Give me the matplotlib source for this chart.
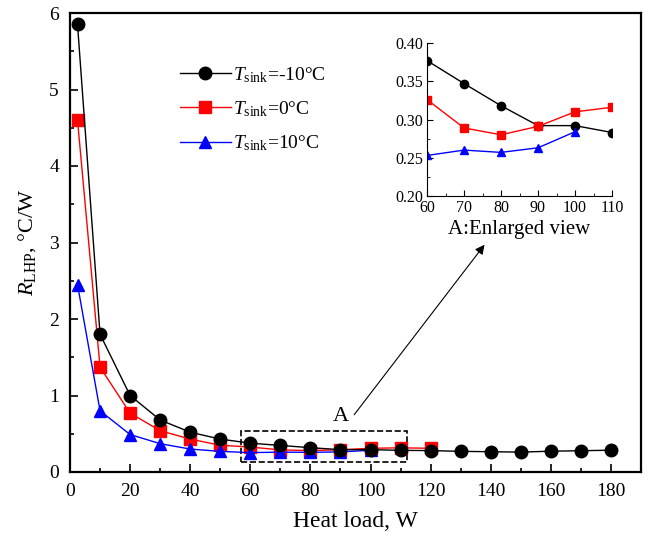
import matplotlib.pyplot as plt
from matplotlib.patches import Rectangle

plt.rcParams['font.family'] = ['Liberation Serif', 'DejaVu Serif']
plt.rcParams['mathtext.fontset'] = 'custom'
plt.rcParams['mathtext.rm'] = 'Liberation Serif'
plt.rcParams['mathtext.it'] = 'Liberation Serif:italic'

# heat load (W) and thermal resistance (C/W) for the three sink temperatures
load_m10 = [2.5, 10, 20, 30, 40, 50, 60, 70, 80, 90, 100, 110, 120, 130, 140, 150, 160, 170, 180]
r_m10 = [5.85, 1.80, 1.00, 0.68, 0.52, 0.43, 0.377, 0.347, 0.318, 0.292, 0.292, 0.283,
         0.28, 0.27, 0.265, 0.26, 0.272, 0.278, 0.285]
load_0 = [2.5, 10, 20, 30, 40, 50, 60, 70, 80, 90, 100, 110, 120]
r_0 = [4.60, 1.37, 0.77, 0.54, 0.43, 0.35, 0.326, 0.289, 0.280, 0.291, 0.310, 0.316, 0.31]
load_10 = [2.5, 10, 20, 30, 40, 50, 60, 70, 80, 90, 100]
r_10 = [2.45, 0.80, 0.49, 0.37, 0.30, 0.27, 0.253, 0.260, 0.257, 0.263, 0.284]

fig = plt.figure(figsize=(6.56, 5.35), dpi=100)
ax = fig.add_axes([70/656, 1 - 472/535, 571/656, 459/535])

ax.plot(load_m10, r_m10, 'k-o', lw=1, ms=9, label=r'$T_{\mathrm{sink}}$=-10°C', zorder=3)
ax.plot(load_0, r_0, '-s', color='red', lw=1, ms=8, label=r'$T_{\mathrm{sink}}$=0°C', zorder=2)
ax.plot(load_10, r_10, '-^', color='blue', lw=1, ms=9, label=r'$T_{\mathrm{sink}}$=10°C', zorder=2)

ax.set_xlim(0, 190)
ax.set_ylim(0, 6)
ax.set_xticks(range(0, 181, 20))
ax.set_xticks(range(10, 190, 20), minor=True)
ax.set_yticks(range(0, 7))
ax.set_yticks([0.5 + i for i in range(6)], minor=True)
ax.tick_params(which='both', direction='in', labelsize=14, width=1.2, pad=8)
ax.tick_params(which='major', length=6)
ax.tick_params(which='minor', length=3)
for s in ax.spines.values():
    s.set_linewidth(1.6)
ax.set_xlabel('Heat load, W', fontsize=17, labelpad=8)
ax.set_ylabel(r'$R_{\mathrm{LHP}}$, °C/W', fontsize=16, labelpad=8)

ax.legend(loc='upper left', bbox_to_anchor=(0.162, 0.925), frameon=False, fontsize=14,
          handlelength=2.6, handletextpad=0.1, labelspacing=0.75)

# dashed box around the enlarged region and pointer to the inset
ax.add_patch(Rectangle((57, 0.13), 55, 0.41, fill=False, ls='--', lw=1.2, ec='k'))
ax.text(90, 0.6, 'A', fontsize=16, ha='center', va='bottom')
ax.annotate('', xy=(138.5, 3.0), xytext=(94, 0.72),
            arrowprops=dict(arrowstyle='-|>', lw=0.8, color='k', mutation_scale=14))

# inset
ins = fig.add_axes([427/656, 1 - 196/535, 185/656, 153/535])
ins.plot(load_m10, r_m10, 'k-o', lw=1, ms=6)
ins.plot(load_0, r_0, '-s', color='red', lw=1, ms=6)
ins.plot(load_10, r_10, '-^', color='blue', lw=1, ms=6)
ins.set_xlim(60, 110)
ins.set_ylim(0.2, 0.4)
ins.set_xticks(range(60, 111, 10))
ins.set_xticks(range(65, 110, 10), minor=True)
ins.set_yticks([0.20, 0.25, 0.30, 0.35, 0.40])
ins.set_yticks([0.225, 0.275, 0.325, 0.375], minor=True)
ins.set_yticklabels(['0.20', '0.25', '0.30', '0.35', '0.40'])
ins.spines['top'].set_visible(False)
ins.spines['right'].set_visible(False)
ins.patch.set_alpha(0)
ins.tick_params(which='both', direction='in', labelsize=11.5)
ins.tick_params(axis='x', pad=3)
ins.tick_params(axis='y', pad=3)
ins.tick_params(which='major', length=4)
ins.tick_params(which='minor', length=2)
ins.set_xlabel('A:Enlarged view', fontsize=15, labelpad=3)

fig.savefig('out.png', dpi=100)
